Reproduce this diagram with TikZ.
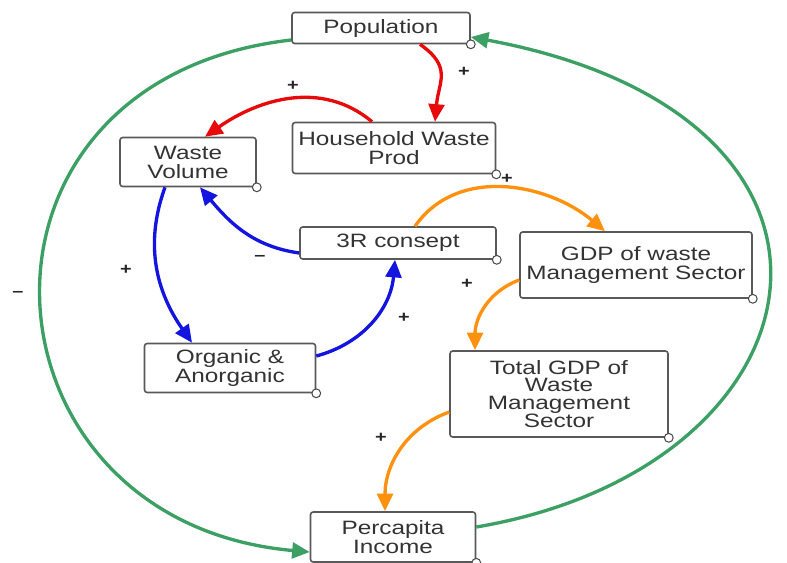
\documentclass[tikz,border=0pt]{standalone}
\usepackage{fontspec}
\setmainfont{Liberation Sans}[FakeStretch=1.26]
\usetikzlibrary{arrows.meta,calc}
\definecolor{redloop}{RGB}{232,10,10}
\definecolor{blueloop}{RGB}{20,20,225}
\definecolor{orangeloop}{RGB}{255,145,15}
\definecolor{greenloop}{RGB}{60,160,100}
\tikzset{
  var/.style={draw=black!65, line width=0.9pt, rounded corners=1.5pt, fill=white,
    align=center, inner sep=1pt, text=black!80,
    font=\fontsize{11}{10.8}\selectfont},
  port/.style={circle, draw=black!70, fill=white, line width=0.6pt, inner sep=0pt, minimum size=5pt},
  link/.style={line width=1.9pt, -{Triangle[length=10pt,width=9pt]}},
  sgn/.style={font=\fontsize{9}{9}\selectfont\bfseries, text=black!85, inner sep=0pt},
}

\begin{document}
\begin{tikzpicture}[x=0.02cm, y=-0.02cm]
\useasboundingbox (0,0) rectangle (787,562);

% --- variables ---
\node[var, minimum width=3.56cm, minimum height=0.62cm] (pop) at (381,28) {Population};
\node[var, minimum width=4.06cm, minimum height=1.02cm] (hwp) at (394,148) {Household Waste\\Prod};
\node[var, minimum width=2.72cm, minimum height=0.98cm] (wv) at (188,162) {Waste\\Volume};
\node[var, minimum width=3.92cm, minimum height=0.64cm] (tr) at (398,243) {3R consept};
\node[var, minimum width=4.64cm, minimum height=1.32cm] (gdp) at (636,265) {GDP of waste\\Management Sector};
\node[var, minimum width=3.42cm, minimum height=0.98cm] (org) at (230,368) {Organic \&\\Anorganic};
\node[var, minimum width=4.36cm, minimum height=1.72cm, font=\fontsize{11}{10.2}\selectfont] (tot) at (559,394) {Total GDP of\\Waste\\Management\\Sector};
\node[var, minimum width=3.30cm, minimum height=1.00cm] (pci) at (393,537) {Percapita\\Income};

% small port circles on the corners
\foreach \n in {pop,hwp,wv,tr,gdp,org,tot,pci}{
  \node[port] (\n-o) at (\n.south east) {};
}

% --- red loop ---
\draw[link, redloop] ([xshift=0.78cm]pop.south) to[out=-35, in=85, looseness=1.3] ([xshift=0.82cm]hwp.north);
\draw[link, redloop] ([xshift=-0.44cm]hwp.north) to[out=140, in=35] ([xshift=0.34cm]wv.north);

% --- blue loop ---
\draw[link, blueloop] ([yshift=-0.2cm]tr.west) to[out=172, in=-50] ([xshift=0.24cm]wv.south);
\draw[link, blueloop] ([xshift=-0.46cm]wv.south) to[out=-110, in=125] ([xshift=-0.76cm]org.north);
\draw[link, blueloop] ([yshift=0.24cm]org.east) to[out=15, in=-95] ([xshift=-0.06cm]tr.south);

% --- orange loop ---
\draw[link, orangeloop] ([xshift=0.34cm]tr.north) to[out=55, in=140] ([xshift=-0.62cm]gdp.north);
\draw[link, orangeloop] ([yshift=-0.3cm]gdp.west) to[out=200, in=90] ([xshift=-1.68cm]tot.north);
\draw[link, orangeloop] ([yshift=-0.36cm]tot.west) to[out=200, in=90] ([xshift=-0.16cm]pci.north);

% --- green outer loop ---
\draw[link, greenloop] ([yshift=0.2cm]pci.east) .. controls +(355,-60) and +(430,80) .. ([yshift=-0.18cm]pop.east);
\draw[link, greenloop] ([yshift=-0.24cm]pop.west) .. controls +(-350,40) and +(-340,-30) .. ([yshift=-0.3cm]pci.west);

% --- polarity signs ---
\node[sgn] (s1) at (464,72) {+};
\node[sgn] (s2) at (293,86) {+};
\node[sgn] (s3) at (507,179) {+};
\node[sgn] (s4) at (126,270) {+};
\node[sgn] (s5) at (404,318) {+};
\node[sgn] (s6) at (467,284) {+};
\node[sgn] (s7) at (381,438) {+};
\node[sgn] (m1) at (260,258) {--};
\node[sgn] (m2) at (18,294) {--};

\end{tikzpicture}
\end{document}
